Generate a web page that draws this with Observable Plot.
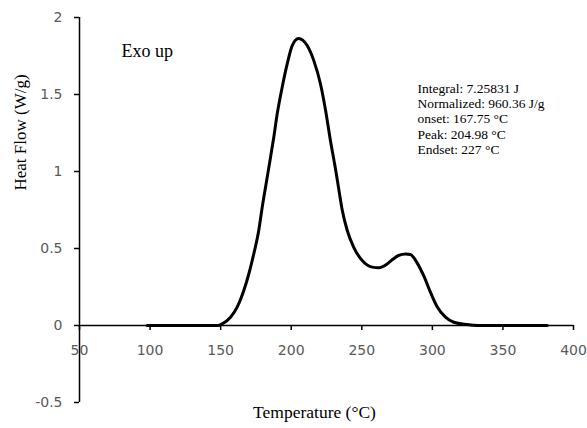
<!DOCTYPE html>
<html>
<head>
<meta charset="utf-8">
<script src="https://cdn.jsdelivr.net/npm/d3@7"></script>
<script src="https://cdn.jsdelivr.net/npm/@observablehq/plot@0.6"></script>
<style>
  html, body { margin: 0; padding: 0; background: #fff; }
</style>
</head>
<body>
<div id="chart"></div>
<script>
const temperature = [98, 120, 140, 148, 151.1, 157, 161.7, 166.4, 170, 173.5, 177, 179.4, 182.3, 185.3, 187.7, 190, 193.6, 197.2, 200.7, 205.2, 211.3, 216, 220.7, 224.3, 227.8, 231.4, 233.7, 236.1, 239.7, 244.3, 250.3, 257.4, 262.1, 268, 272, 276.2, 281, 284.5, 289.3, 294, 298.7, 303.4, 309.3, 315.2, 324.7, 332.7, 350, 381.4];
const heatFlow = [0, 0, 0, 0, 0.011, 0.054, 0.119, 0.227, 0.336, 0.466, 0.617, 0.765, 0.925, 1.09, 1.225, 1.37, 1.547, 1.70, 1.818, 1.864, 1.818, 1.72, 1.57, 1.40, 1.20, 1.015, 0.885, 0.752, 0.617, 0.508, 0.422, 0.379, 0.375, 0.40, 0.43, 0.455, 0.465, 0.461, 0.405, 0.32, 0.215, 0.122, 0.054, 0.021, 0.006, 0, 0, 0];
const xTicks = [50, 100, 150, 200, 250, 300, 350, 400];
const yTicks = [-0.5, 0, 0.5, 1, 1.5, 2];
const yTickLabels = ["-0.5", "0", "0.5", "1", "1.5", "2"];
const annotationLines = ["Integral: 7.25831 J", "Normalized: 960.36 J/g", "onset: 167.75 °C", "Peak: 204.98 °C", "Endset: 227 °C"];

const data = temperature.map((t, i) => ({t, v: heatFlow[i]}));
const yTickData = yTicks.map((v, i) => ({v, label: yTickLabels[i]}));

const tickFont = "DejaVu Sans";
const serif = "Liberation Serif, Times New Roman, serif";

const chart = Plot.plot({
  width: 587,
  height: 428,
  marginLeft: 79,
  marginRight: 14,
  marginTop: 17,
  marginBottom: 26,
  x: {domain: [50, 400], axis: null},
  y: {domain: [-0.5, 2], axis: null},
  style: {background: "#fff"},
  marks: [
    Plot.ruleY([0], {stroke: "#000", strokeWidth: 1.5}),
    Plot.ruleX([50], {stroke: "#000", strokeWidth: 1.5}),
    Plot.ruleX(xTicks, {x: d => d, y1: 0, y2: 0, insetBottom: -5, stroke: "#000", strokeWidth: 1.5}),
    Plot.ruleY(yTicks, {y: d => d, x1: 50, x2: 50, insetLeft: -5, stroke: "#000", strokeWidth: 1.5}),
    Plot.text(xTicks, {x: d => d, y: 0, text: d => String(d), dy: 25, fill: "#595959", fontSize: 14, fontFamily: tickFont}),
    Plot.text(yTickData, {x: 50, y: "v", text: "label", dx: -17, textAnchor: "end", fill: "#595959", fontSize: 14, fontFamily: tickFont}),
    Plot.line(data, {x: "t", y: "v", stroke: "#000", strokeWidth: 3, curve: "monotone-x", strokeLinejoin: "round"}),
    Plot.text(["Temperature (°C)"], {frameAnchor: "bottom", dx: -12, dy: 15, fontSize: 17.5, fontFamily: serif, fill: "#000"}),
    Plot.text(["Heat Flow (W/g)"], {frameAnchor: "left", dx: -59, dy: -19.5, rotate: -90, fontSize: 17, fontFamily: serif, fill: "#000"}),
    Plot.text(["Exo up"], {frameAnchor: "top-left", dx: 42, dy: 27, textAnchor: "start", fontSize: 18, fontFamily: serif, fill: "#000"}),
    Plot.text([annotationLines.join("\n")], {frameAnchor: "top-left", dx: 338, dy: 64.5, textAnchor: "start", lineAnchor: "top", lineHeight: 1.13, fontSize: 13.5, fontFamily: serif, fill: "#000"})
  ]
});
document.getElementById("chart").appendChild(chart);
</script>
</body>
</html>
